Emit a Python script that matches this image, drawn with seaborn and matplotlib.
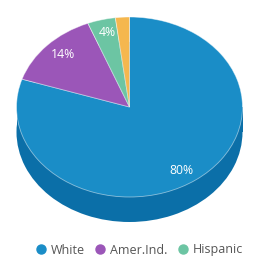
import matplotlib
matplotlib.use("Agg")
import matplotlib.pyplot as plt
from matplotlib.lines import Line2D
from matplotlib.patches import Rectangle
import seaborn as sns

categories = ["White", "Amer.Ind.", "Hispanic", "Other"]
values = [80, 14, 4, 2]
labels = ["80%", "14%", "4%", ""]
legend_categories = ["White", "Amer.Ind.", "Hispanic"]
colors = ["#1a8dc7", "#9b56b8", "#6cc5a3", "#f5b74e"]
side_color = "#0b6fa8"

sns.set_theme(style="white")
plt.rcParams["font.family"] = ["Open Sans", "DejaVu Sans"]

W, H = 258, 265
fig = plt.figure(figsize=(W / 100, H / 100), dpi=100)

# pie geometry in pixels
cx, cy = 129.5, 107
rx, ry = 113, 90
depth = 25
d = depth / ry

left = (cx - rx) / W
width = 2 * rx / W
bottom_px = cy + ry + depth
ax = fig.add_axes([left, 1 - bottom_px / H, width, (2 * ry + depth) / H])
ax.axis("off")

# side of cylinder
ax.pie([1], colors=[side_color], center=(0, -d), radius=1,
       wedgeprops=dict(linewidth=0))
ax.add_patch(Rectangle((-1, -d), 2, d, color=side_color, lw=0))

wedges, texts = ax.pie(values, colors=colors, startangle=90, counterclock=False,
                       radius=1, center=(0, 0),
                       wedgeprops=dict(linewidth=0.6, edgecolor=(1, 1, 1, 0.5)))
ax.set_xlim(-1, 1)
ax.set_ylim(-1 - d, 1)
ax.set_aspect("auto")

# percent labels (pixel positions converted to data)
label_px = [(181, 170), (63, 54), (107, 32), None]
for lab, pos in zip(labels, label_px):
    if not lab or pos is None:
        continue
    x = (pos[0] - cx) / rx
    y = -(pos[1] - cy) / ry
    ax.text(x, y, lab, color="white", fontsize=8.8, ha="center", va="center")

handles = [Line2D([], [], marker="o", linestyle="", markersize=6.5,
                  markerfacecolor=c, markeredgecolor=c)
           for c in colors[:3]]
fig.legend(handles, legend_categories, loc="center", bbox_to_anchor=(139 / W, 1 - 250 / H),
           ncol=3, frameon=False, fontsize=9.0, handletextpad=0.3,
           columnspacing=0.7, labelcolor="#555555", handlelength=1.0)

fig.savefig("out.png", dpi=100)
